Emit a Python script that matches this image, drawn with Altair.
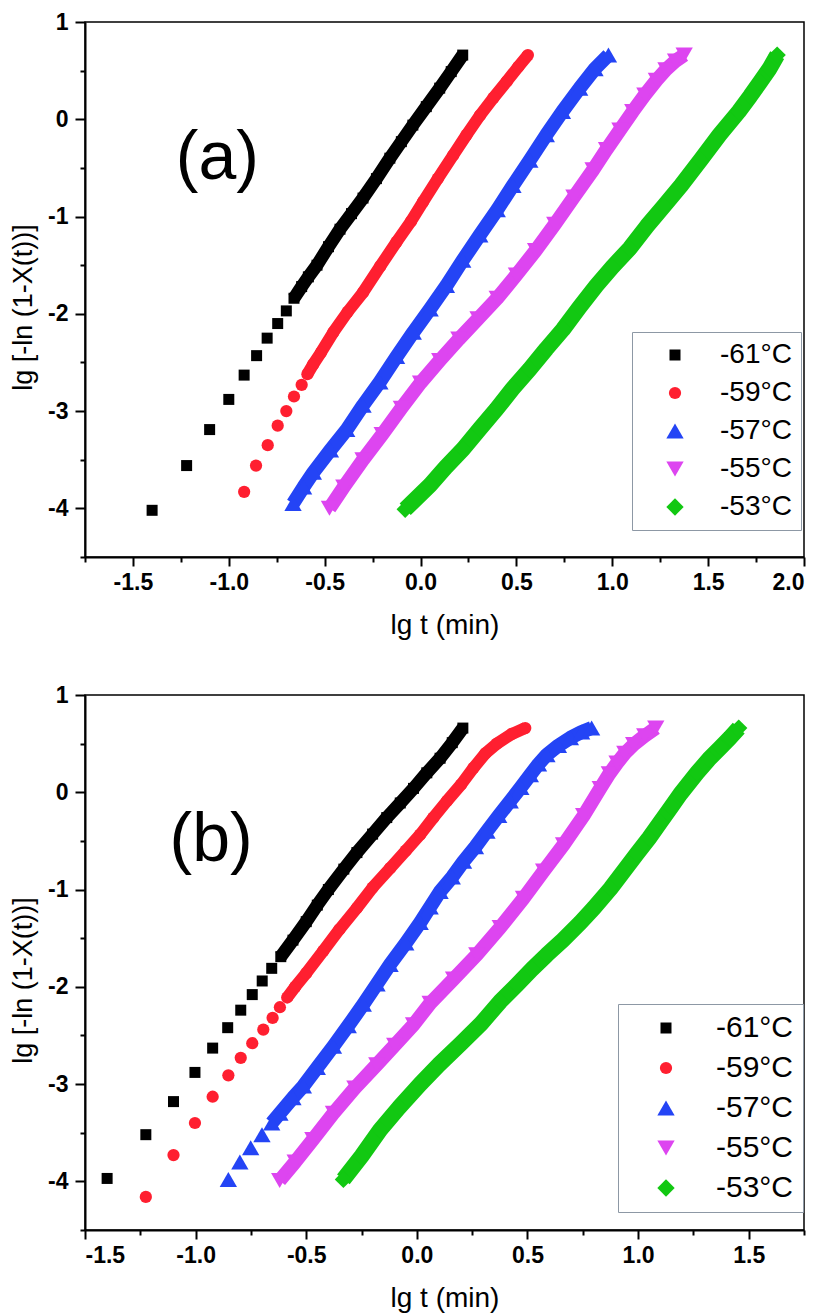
import altair as alt
import pandas as pd

FONT = "Liberation Sans"

SERIES = ["-61°C", "-59°C", "-57°C", "-55°C", "-53°C"]
COLORS = ["#000000", "#ff1f30", "#2444f5", "#dd45f0", "#12c812"]
SHAPES = ["square", "circle", "triangle-up", "triangle-down", "diamond"]
SIZES = [121, 150, 300, 300, 300]
LINE_W = [13, 12, 14, 14, 16]

# ---------------- panel (a) ----------------
A61_DOT_X = [-1.40, -1.22, -1.10, -1.00, -0.92, -0.855, -0.80, -0.745, -0.70]
A61_DOT_Y = [-4.02, -3.56, -3.19, -2.88, -2.63, -2.43, -2.25, -2.10, -1.97]
A61_BAND_X = [-0.66, -0.62, -0.585, -0.54, -0.48, -0.42, -0.36, -0.30, -0.23, -0.16, -0.10, -0.04, 0.03, 0.10, 0.16, 0.22]
A61_BAND_Y = [-1.84, -1.72, -1.62, -1.50, -1.31, -1.13, -0.97, -0.81, -0.61, -0.40, -0.23, -0.06, 0.13, 0.32, 0.49, 0.66]

A59_DOT_X = [-0.92, -0.858, -0.797, -0.745, -0.70, -0.66, -0.62]
A59_DOT_Y = [-3.83, -3.56, -3.35, -3.15, -3.00, -2.85, -2.73]
A59_BAND_X = [-0.59, -0.56, -0.52, -0.455, -0.38, -0.30, -0.21, -0.125, -0.05, 0.013, 0.09, 0.17, 0.24, 0.31, 0.38, 0.45, 0.51, 0.56]
A59_BAND_Y = [-2.62, -2.52, -2.40, -2.19, -1.98, -1.78, -1.51, -1.26, -1.05, -0.85, -0.61, -0.37, -0.16, 0.04, 0.22, 0.39, 0.54, 0.66]

A57_BAND_X = [-0.665, -0.61, -0.559, -0.47, -0.385, -0.30, -0.212, -0.125, -0.038, 0.05, 0.135, 0.22, 0.309, 0.40, 0.482, 0.57, 0.656, 0.74, 0.83, 0.91, 0.98]
A57_BAND_Y = [-3.95, -3.78, -3.63, -3.40, -3.19, -2.94, -2.70, -2.44, -2.19, -1.95, -1.71, -1.45, -1.19, -0.93, -0.68, -0.42, -0.16, 0.08, 0.32, 0.52, 0.66]

A55_BAND_X = [-0.475, -0.40, -0.30, -0.20, -0.10, 0.0, 0.10, 0.20, 0.30, 0.40, 0.50, 0.60, 0.70, 0.80, 0.90, 0.97, 1.04, 1.107, 1.17, 1.23, 1.28, 1.33, 1.375]
A55_BAND_Y = [-4.00, -3.78, -3.50, -3.24, -2.97, -2.71, -2.48, -2.26, -2.05, -1.84, -1.60, -1.35, -1.08, -0.80, -0.52, -0.31, -0.11, 0.08, 0.25, 0.40, 0.51, 0.60, 0.66]

A53_BAND_X = [-0.08, 0.05, 0.13, 0.222, 0.31, 0.396, 0.48, 0.569, 0.656, 0.743, 0.83, 0.917, 1.0, 1.09, 1.18, 1.27, 1.359, 1.46, 1.559, 1.66, 1.72, 1.77, 1.82, 1.86]
A53_BAND_Y = [-4.01, -3.76, -3.58, -3.39, -3.18, -2.98, -2.77, -2.57, -2.36, -2.16, -1.93, -1.71, -1.52, -1.33, -1.10, -0.89, -0.68, -0.42, -0.16, 0.08, 0.24, 0.38, 0.52, 0.66]

# ---------------- panel (b) ----------------
B61_DOT_X = [-1.40, -1.225, -1.10, -1.003, -0.923, -0.855, -0.796, -0.744, -0.699, -0.656]
B61_DOT_Y = [-3.97, -3.52, -3.18, -2.88, -2.63, -2.42, -2.24, -2.08, -1.94, -1.81]
B61_BAND_X = [-0.615, -0.56, -0.50, -0.45, -0.40, -0.33, -0.271, -0.20, -0.136, -0.075, -0.015, 0.045, 0.105, 0.16, 0.208]
B61_BAND_Y = [-1.69, -1.52, -1.33, -1.16, -1.00, -0.79, -0.62, -0.43, -0.26, -0.11, 0.04, 0.20, 0.35, 0.51, 0.66]

B59_DOT_X = [-1.225, -1.10, -1.003, -0.923, -0.852, -0.796, -0.744, -0.694, -0.652, -0.619]
B59_DOT_Y = [-4.16, -3.73, -3.40, -3.13, -2.91, -2.73, -2.58, -2.44, -2.32, -2.21]
B59_BAND_X = [-0.586, -0.55, -0.50, -0.423, -0.35, -0.271, -0.20, -0.121, -0.05, 0.015, 0.075, 0.136, 0.20, 0.256, 0.31, 0.362, 0.43, 0.49]
B59_BAND_Y = [-2.11, -2.00, -1.86, -1.63, -1.41, -1.19, -0.98, -0.78, -0.60, -0.435, -0.26, -0.09, 0.08, 0.25, 0.40, 0.50, 0.60, 0.66]

B57_DOT_X = [-0.852, -0.80, -0.751, -0.70]
B57_DOT_Y = [-3.98, -3.80, -3.655, -3.52]
B57_BAND_X = [-0.656, -0.619, -0.56, -0.513, -0.45, -0.377, -0.31, -0.242, -0.18, -0.121, -0.05, 0.015, 0.06, 0.105, 0.16, 0.211, 0.265, 0.317, 0.37, 0.422, 0.47, 0.513, 0.55, 0.588, 0.64, 0.694, 0.745, 0.79]
B57_BAND_Y = [-3.40, -3.30, -3.14, -3.02, -2.83, -2.61, -2.40, -2.18, -1.97, -1.77, -1.55, -1.34, -1.18, -1.02, -0.87, -0.71, -0.56, -0.40, -0.24, -0.09, 0.05, 0.18, 0.29, 0.387, 0.48, 0.56, 0.62, 0.66]

B55_BAND_X = [-0.62, -0.55, -0.47, -0.377, -0.28, -0.181, -0.10, -0.015, 0.06, 0.166, 0.271, 0.377, 0.482, 0.573, 0.663, 0.754, 0.829, 0.87, 0.905, 0.94, 0.98, 1.03, 1.08]
B55_BAND_Y = [-3.99, -3.80, -3.57, -3.30, -3.04, -2.80, -2.60, -2.39, -2.17, -1.92, -1.67, -1.39, -1.09, -0.81, -0.54, -0.24, 0.04, 0.19, 0.30, 0.40, 0.49, 0.58, 0.66]

B53_BAND_X = [-0.332, -0.25, -0.166, -0.08, 0.015, 0.10, 0.196, 0.29, 0.377, 0.452, 0.52, 0.588, 0.66, 0.739, 0.80, 0.875, 0.935, 0.995, 1.05, 1.10, 1.15, 1.19, 1.267, 1.32, 1.372, 1.415, 1.455]
B53_BAND_Y = [-3.98, -3.74, -3.47, -3.24, -3.00, -2.80, -2.59, -2.38, -2.15, -1.98, -1.82, -1.67, -1.52, -1.34, -1.19, -0.99, -0.81, -0.63, -0.47, -0.31, -0.15, -0.02, 0.20, 0.34, 0.46, 0.56, 0.66]

# axis ticks and panel labels
A_X_TICKS = [-1.75, -1.5, -1.25, -1.0, -0.75, -0.5, -0.25, 0.0, 0.25, 0.5, 0.75, 1.0, 1.25, 1.5, 1.75, 2.0]
B_X_TICKS = [-1.5, -1.25, -1.0, -0.75, -0.5, -0.25, 0.0, 0.25, 0.5, 0.75, 1.0, 1.25, 1.5, 1.75]
Y_TICKS = [1.0, 0.5, 0.0, -0.5, -1.0, -1.5, -2.0, -2.5, -3.0, -3.5, -4.0, -4.5]
PANEL_IDS = ["a", "b"]
LABEL_TEXT = ["(a)", "(b)"]
LABEL_X = [-1.06, -0.93]
LABEL_Y = [-0.61, -0.71]

rows = []


def add(panel, series, xs, ys, band):
    for xv, yv in zip(xs, ys):
        rows.append({"panel": panel, "series": series, "x": xv, "y": yv, "band": band})


add("a", SERIES[0], A61_DOT_X, A61_DOT_Y, 0)
add("a", SERIES[0], A61_BAND_X, A61_BAND_Y, 1)
add("a", SERIES[1], A59_DOT_X, A59_DOT_Y, 0)
add("a", SERIES[1], A59_BAND_X, A59_BAND_Y, 1)
add("a", SERIES[2], A57_BAND_X, A57_BAND_Y, 1)
add("a", SERIES[3], A55_BAND_X, A55_BAND_Y, 1)
add("a", SERIES[4], A53_BAND_X, A53_BAND_Y, 1)
add("b", SERIES[0], B61_DOT_X, B61_DOT_Y, 0)
add("b", SERIES[0], B61_BAND_X, B61_BAND_Y, 1)
add("b", SERIES[1], B59_DOT_X, B59_DOT_Y, 0)
add("b", SERIES[1], B59_BAND_X, B59_BAND_Y, 1)
add("b", SERIES[2], B57_DOT_X, B57_DOT_Y, 0)
add("b", SERIES[2], B57_BAND_X, B57_BAND_Y, 1)
add("b", SERIES[3], B55_BAND_X, B55_BAND_Y, 1)
add("b", SERIES[4], B53_BAND_X, B53_BAND_Y, 1)

df = pd.DataFrame(rows)
labels = pd.DataFrame({"panel": PANEL_IDS, "t": LABEL_TEXT, "x": LABEL_X, "y": LABEL_Y})

MAJOR_X = "datum.value % 0.5 == 0"
MAJOR_Y = "datum.value % 1 == 0"


def x_axis(values):
    return alt.Axis(
        values=values,
        title="lg t (min)",
        labelExpr=f"{MAJOR_X} ? (datum.value < 0 ? '-' : '') + format(abs(datum.value), '.1f') : ''",
        tickSize={"condition": {"test": MAJOR_X, "value": 9}, "value": 5},
        labelPadding=5,
        titlePadding=17,
        labelFontSize=23,
        labelFontWeight="bold",
        titleFontSize=28,
        titleFontWeight="normal",
        labelOverlap=False,
        grid=False,
    )


def y_axis():
    return alt.Axis(
        values=Y_TICKS,
        title="lg [-ln (1-X(t))]",
        labelExpr=f"{MAJOR_Y} ? (datum.value < 0 ? '-' : '') + format(abs(datum.value), 'd') : ''",
        tickSize={"condition": {"test": MAJOR_Y, "value": 10}, "value": 5},
        labelPadding=7,
        titlePadding=10,
        titleY=285,
        labelFontSize=23,
        labelFontWeight="bold",
        titleFontSize=27,
        titleFontWeight="normal",
        labelOverlap=False,
        grid=False,
    )


def panel(pid, xdom, xticks, legx, legy, symoff, laboff, pad, labsize):
    d = df[df["panel"] == pid]
    legend = alt.Legend(
        title=None, orient="none", legendX=legx, legendY=legy,
        labelFontSize=labsize, labelFont=FONT, labelColor="black",
        padding=pad, rowPadding=10, symbolOffset=symoff, labelOffset=laboff,
        strokeColor="#8d98a5", fillColor="white", symbolStrokeWidth=0,
    )
    x = alt.X("x:Q", scale=alt.Scale(domain=xdom, nice=False, zero=False), axis=x_axis(xticks))
    y = alt.Y("y:Q", scale=alt.Scale(domain=[-4.5, 1], nice=False, zero=False), axis=y_axis())
    layers = []
    for s, c, w in zip(SERIES, COLORS, LINE_W):
        sub = d[(d["series"] == s) & (d["band"] == 1)]
        layers.append(
            alt.Chart(sub).mark_line(color=c, strokeWidth=w, strokeCap="butt", strokeJoin="round").encode(x=x, y=y)
        )
    pts = alt.Chart(d).mark_point(filled=True, opacity=1, strokeWidth=0).encode(
        x=x, y=y,
        color=alt.Color("series:N", scale=alt.Scale(domain=SERIES, range=COLORS), legend=legend),
        shape=alt.Shape("series:N", scale=alt.Scale(domain=SERIES, range=SHAPES), legend=legend),
        size=alt.Size("series:N", scale=alt.Scale(type="ordinal", domain=SERIES, range=SIZES), legend=legend),
    )
    lab = alt.Chart(labels[labels["panel"] == pid]).mark_text(
        font=FONT, fontSize=68, baseline="alphabetic", align="center", color="black"
    ).encode(x="x:Q", y="y:Q", text="t:N")
    return alt.layer(*layers, pts, lab).properties(width=719, height=535)


pa = panel("a", [-1.75, 2.0], A_X_TICKS, 547, 310, 20, 31, 9, 28)
pb = panel("b", [-1.5, 1.75], B_X_TICKS, 533, 309, 24, 35, 9, 30)

chart = (
    alt.vconcat(pa, pb, spacing=43)
    .resolve_scale(color="independent", shape="independent", size="independent")
    .resolve_legend(color="independent", shape="independent", size="independent")
    .properties(padding={"left": 0, "top": 2, "right": 0, "bottom": 0})
    .configure_view(stroke="black", strokeWidth=1.5)
    .configure_axis(
        domainColor="black", domainWidth=2, tickColor="black", tickWidth=2,
        labelColor="black", titleColor="black", labelFont=FONT, titleFont=FONT,
    )
)

chart.save("out.html", embed_options={"renderer": "svg", "actions": False})
